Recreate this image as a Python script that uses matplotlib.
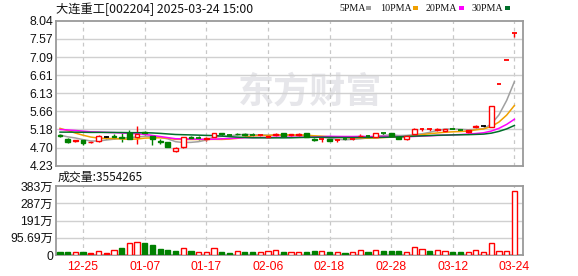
import matplotlib
matplotlib.use('Agg')
import matplotlib.pyplot as plt
import numpy as np
import pandas as pd
from matplotlib.patches import Rectangle

plt.rcParams['font.family'] = ['Liberation Sans', 'Noto Sans CJK SC', 'DejaVu Sans']

# ---------------- data ----------------
dates = ['12-20', '12-23', '12-24', '12-25', '12-26', '12-27', '12-30', '12-31',
         '01-02', '01-03', '01-06', '01-07', '01-08', '01-09', '01-10', '01-13',
         '01-14', '01-15', '01-16', '01-17', '01-20', '01-21', '01-22', '01-23',
         '01-24', '01-27', '02-05', '02-06', '02-07', '02-10', '02-11', '02-12',
         '02-13', '02-14', '02-17', '02-18', '02-19', '02-20', '02-21', '02-24',
         '02-25', '02-26', '02-27', '02-28', '03-03', '03-04', '03-05', '03-06',
         '03-07', '03-10', '03-11', '03-12', '03-13', '03-14', '03-17', '03-18',
         '03-19', '03-20', '03-21', '03-24']

open_ = [5.03, 4.94, 4.90, 4.90, 4.86, 4.88, 4.97, 5.00, 4.97, 5.08,
         4.97, 5.12, 5.00, 4.88, 4.84, 4.62, 4.71, 4.97, 4.96, 4.93,
         4.99, 5.08, 5.04, 5.07, 5.06, 5.05, 5.03, 5.02, 5.04, 5.08,
         5.03, 5.07, 5.08, 4.94, 4.93, 4.94, 4.90, 4.93, 4.93, 5.00,
         5.01, 4.99, 5.09, 5.08, 4.99, 4.92, 5.06, 5.18, 5.18, 5.17,
         5.15, 5.20, 5.17, 5.16, 5.24, 5.27, 5.25, 6.38, 7.02, 7.72]
high = [5.05, 4.95, 4.91, 4.91, 4.87, 5.03, 5.00, 5.07, 5.08, 5.16,
        5.26, 5.15, 5.01, 4.92, 4.85, 4.72, 4.98, 5.01, 5.00, 4.99,
        5.10, 5.10, 5.05, 5.10, 5.09, 5.08, 5.06, 5.04, 5.08, 5.09,
        5.06, 5.08, 5.09, 4.95, 4.95, 4.95, 4.92, 4.94, 4.95, 5.05,
        5.03, 5.09, 5.10, 5.09, 5.00, 5.03, 5.23, 5.22, 5.23, 5.22,
        5.20, 5.23, 5.19, 5.17, 5.30, 5.29, 5.80, 6.38, 7.02, 7.72]
low = [4.98, 4.83, 4.86, 4.78, 4.83, 4.86, 4.93, 4.94, 4.86, 4.93,
       4.81, 5.04, 4.77, 4.81, 4.71, 4.58, 4.70, 4.92, 4.90, 4.88,
       4.98, 5.02, 5.01, 5.03, 5.00, 5.01, 5.01, 4.97, 5.01, 5.00,
       5.01, 5.02, 4.98, 4.88, 4.85, 4.87, 4.85, 4.90, 4.91, 4.97,
       4.98, 4.98, 5.01, 4.99, 4.93, 4.91, 5.05, 5.15, 5.15, 5.15,
       5.14, 5.18, 5.15, 5.10, 5.21, 5.25, 5.24, 6.38, 7.02, 7.62]
close = [5.00, 4.84, 4.87, 4.83, 4.84, 5.00, 4.97, 4.98, 4.95, 4.94,
         5.06, 5.08, 4.93, 4.86, 4.73, 4.69, 4.97, 4.95, 4.95, 4.95,
         5.09, 5.05, 5.03, 5.05, 5.04, 5.04, 5.04, 4.98, 5.06, 5.01,
         5.05, 5.03, 4.99, 4.89, 4.94, 4.88, 4.91, 4.92, 4.94, 5.02,
         5.00, 5.08, 5.08, 5.00, 4.94, 5.02, 5.18, 5.19, 5.19, 5.20,
         5.19, 5.19, 5.16, 5.12, 5.26, 5.27, 5.80, 6.38, 7.02, 7.72]
# candle look: r = red hollow, rf = red filled, g = green filled, k = flat
candle_kind = ['g', 'g', 'rf', 'g', 'rf', 'r', 'k', 'g', 'g', 'g',
               'r', 'g', 'g', 'g', 'g', 'r', 'r', 'g', 'g', 'r',
               'r', 'g', 'g', 'g', 'g', 'g', 'r', 'rf', 'r', 'g',
               'r', 'rf', 'g', 'g', 'r', 'g', 'r', 'g', 'r', 'r',
               'g', 'r', 'g', 'g', 'g', 'r', 'r', 'r', 'r', 'r',
               'r', 'g', 'g', 'rf', 'r', 'k', 'r', 'r', 'r', 'r']
# closes of the 29 sessions before 12-20 (only used for the moving averages)
prior_closes = [4.85, 4.88, 4.92, 4.95, 4.98, 5.00, 5.02, 4.99, 5.03, 5.08,
                5.10, 5.14, 5.20, 5.18, 5.12, 5.15, 5.10, 5.13, 5.16, 5.22,
                5.44, 5.52, 5.40, 5.32, 5.27, 5.06, 5.02, 5.05, 5.02]

volume_wan = [16.7, 16.7, 16.7, 16.7, 11.1, 20.4, 11.1, 25.9, 38.9, 64.8,
              70.3, 66.6, 55.5, 33.3, 27.8, 22.2, 37.0, 22.2, 14.8, 14.8,
              37.0, 16.7, 11.1, 20.4, 16.7, 16.7, 14.8, 20.4, 25.9, 16.7,
              16.7, 16.7, 16.7, 24.1, 22.2, 16.7, 16.7, 11.1, 16.7, 25.9,
              16.7, 25.9, 22.2, 22.2, 22.2, 14.8, 42.6, 31.5, 22.2, 25.9,
              20.4, 16.7, 16.7, 14.8, 25.9, 14.8, 66.6, 20.4, 20.4, 355.4]
volume_kind = ['g', 'g', 'r', 'g', 'rf', 'r', 'rf', 'r', 'g', 'r',
               'r', 'g', 'g', 'g', 'g', 'g', 'r', 'g', 'r', 'r',
               'r', 'g', 'g', 'r', 'g', 'g', 'r', 'r', 'r', 'g',
               'r', 'r', 'g', 'g', 'r', 'g', 'r', 'g', 'r', 'r',
               'g', 'r', 'g', 'g', 'g', 'r', 'r', 'r', 'g', 'r',
               'r', 'g', 'g', 'r', 'r', 'r', 'r', 'r', 'r', 'r']
last_volume = 3554265

ma_periods = [5, 10, 20, 30]
ma_names = ['5PMA', '10PMA', '20PMA', '30PMA']
ma_colors = ['#a0a0a0', '#f0a000', '#ff00ff', '#006f2a']

price_ticks = [4.23, 4.70, 5.18, 5.66, 6.13, 6.61, 7.09, 7.57, 8.04]
vol_ticks = [0, 95.69, 191.38, 287.07, 382.76]
vol_tick_labels = ['0', '95.69万', '191万', '287万', '383万']
date_labels = ['12-25', '01-07', '01-17', '02-06', '02-18', '02-28', '03-12', '03-24']

title = '大连重工[002204] 2025-03-24 15:00'

# ---------------- figure ----------------
W, H = 578, 276
fig = plt.figure(figsize=(W / 100, H / 100), dpi=100)
fig.patch.set_facecolor('white')

def fx(px):
    return px / W

def fy(py):
    return 1 - py / H

L, R = 56, 523
ax = fig.add_axes([fx(L), fy(165.5), (R - L) / W, (165.5 - 21) / H])
axv = fig.add_axes([fx(L), fy(255), (R - L) / W, (255 - 186) / H])

RED = '#ff0000'
GREEN = '#008000'
n = len(dates)
x = np.arange(n)
xlim = (-0.52, n - 1 + 1.12)
tick_pos = [dates.index(d) for d in date_labels]

for a in (ax, axv):
    a.set_xlim(*xlim)
    for s in a.spines.values():
        s.set_color('#9a9a9a')
        s.set_linewidth(1.3)
    a.tick_params(length=0, pad=2, labelsize=8.8)
    for p in tick_pos:
        a.axvline(p, color='#c8c8c8', lw=0.9, ls=(0, (3, 3)), zorder=0.5)

# price axes
ax.set_ylim(price_ticks[0], price_ticks[-1])
ax.set_yticks(price_ticks)
ax.set_yticklabels(['%.2f' % v for v in price_ticks], color='#111111')
ax.set_xticks([])
for v in price_ticks[1:-1]:
    ax.axhline(v, color='#d0d0d0', lw=1.0, zorder=0.5)

ax.text(0.545, 0.51, '东方财富', transform=ax.transAxes, ha='center', va='center',
        fontsize=26, fontweight='bold', color='#e6e6ea',
        family=['Noto Sans CJK SC'], zorder=0.2)

bw = 0.62
for i in range(n):
    o, h_, l_, c = open_[i], high[i], low[i], close[i]
    kind = candle_kind[i]
    col = {'r': RED, 'rf': RED, 'g': GREEN, 'k': '#000000'}[kind]
    ax.plot([x[i], x[i]], [l_, h_], color=col, lw=1.0, zorder=2,
            solid_capstyle='butt')
    lo, hi = min(o, c), max(o, c)
    if hi - lo < 0.012:
        ax.plot([x[i] - bw / 2, x[i] + bw / 2], [c, c], color=col, lw=1.3,
                zorder=3, solid_capstyle='butt')
    else:
        face = 'white' if kind == 'r' else col
        ax.add_patch(Rectangle((x[i] - bw / 2, lo), bw, hi - lo, facecolor=face,
                               edgecolor=col, lw=1.0, zorder=3))

closes_all = pd.Series(prior_closes + close)
for per, col in zip(ma_periods, ma_colors):
    ma = closes_all.rolling(per).mean().values[-n:]
    ax.plot(x, ma, color=col, lw=1.1, zorder=2.5)

# volume axes
axv.set_ylim(0, vol_ticks[-1])
axv.set_yticks(vol_ticks)
axv.set_yticklabels(vol_tick_labels, color='#111111',
                    family=['Liberation Sans', 'Noto Sans CJK SC'])
axv.set_xticks(tick_pos)
axv.set_xticklabels(date_labels, color=RED, fontsize=8.8)
axv.tick_params(axis='x', pad=4)
for v in vol_ticks[1:-1]:
    axv.axhline(v, color='#d0d0d0', lw=1.0, zorder=0.5)

vw = 0.68
for i in range(n):
    kind = volume_kind[i]
    col = RED if kind in ('r', 'rf') else GREEN
    face = 'white' if kind == 'r' else col
    axv.add_patch(Rectangle((x[i] - vw / 2, 0), vw, volume_wan[i], facecolor=face,
                            edgecolor=col, lw=1.0, zorder=3))

# texts
fig.text(fx(56), fy(9.5), title, ha='left', va='center', fontsize=8.8,
         family=['Noto Sans CJK SC', 'DejaVu Sans'], color='#111111')
fig.text(fx(58), fy(177), '成交量:%d' % last_volume, ha='left', va='center',
         fontsize=8.6, family=['Noto Sans CJK SC', 'DejaVu Sans'], color='#111111')

legend_text_x = [339, 380, 426, 472]
legend_box_x = [366, 413, 459, 505]
for name, col, tx, bx in zip(ma_names, ma_colors, legend_text_x, legend_box_x):
    fig.text(fx(tx), fy(8.5), name, ha='left', va='center', fontsize=7.2,
             family=['Liberation Serif'], color='#111111')
    fig.patches.append(Rectangle((fx(bx), fy(10)), 5 / W, 3.5 / H, facecolor=col,
                                 edgecolor='none', transform=fig.transFigure,
                                 figure=fig))

fig.savefig('out.png', dpi=100, facecolor='white')
